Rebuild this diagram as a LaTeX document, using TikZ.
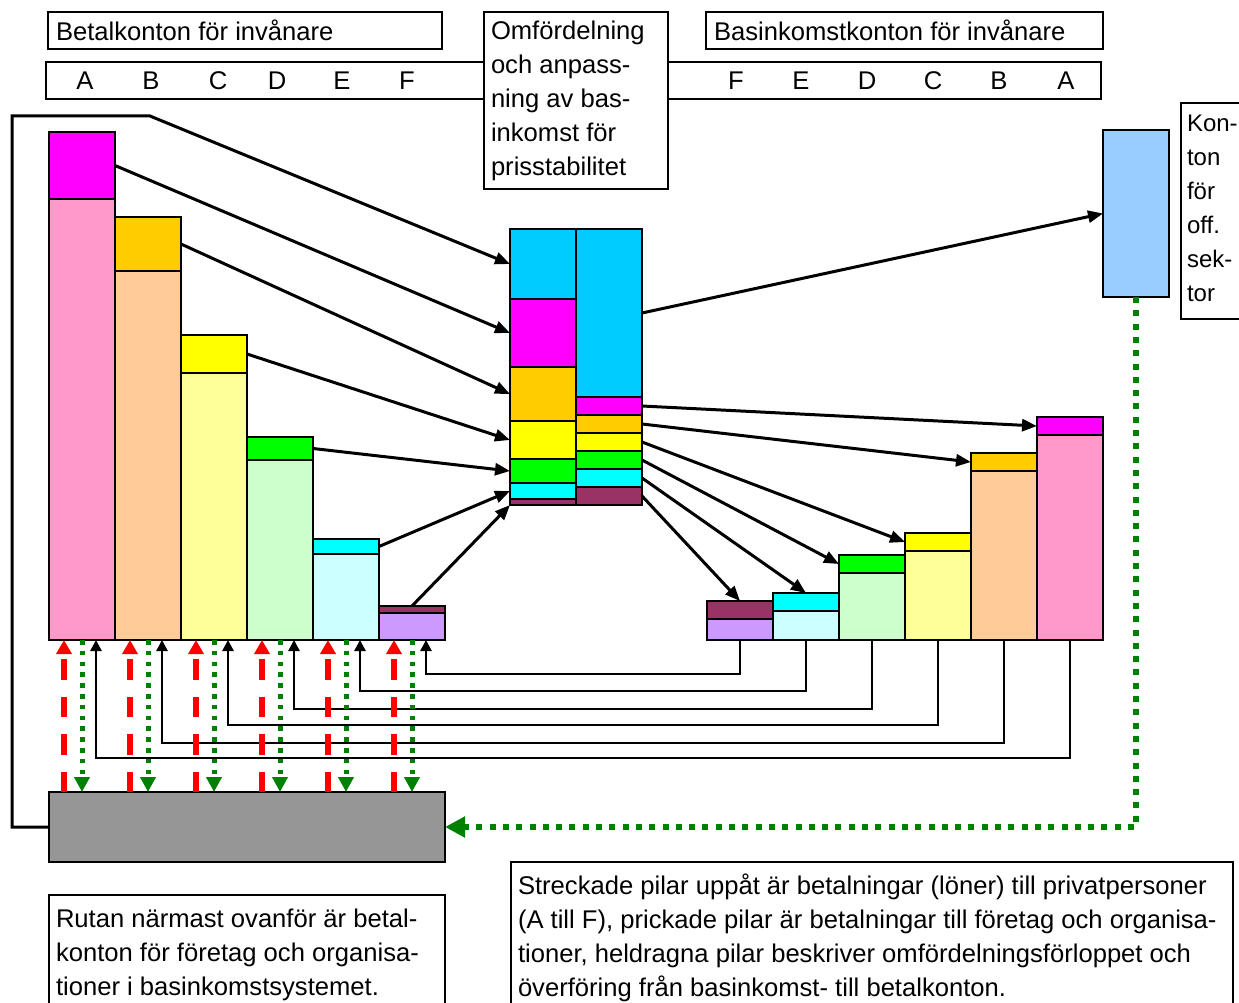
\documentclass[tikz,border=0pt]{standalone}
\usepackage{fontspec}
\setmainfont{Liberation Sans}
\usetikzlibrary{arrows.meta}

\definecolor{skyB}{HTML}{00CCFF}
\definecolor{magA}{HTML}{FF00FF}
\definecolor{goldB}{HTML}{FFCC00}
\definecolor{yelC}{HTML}{FFFF00}
\definecolor{grnD}{HTML}{00FF00}
\definecolor{cyaE}{HTML}{00FFFF}
\definecolor{marF}{HTML}{993366}
\definecolor{pinkA}{HTML}{FF99CC}
\definecolor{peachB}{HTML}{FFCC99}
\definecolor{lyelC}{HTML}{FFFF99}
\definecolor{lgrnD}{HTML}{CCFFCC}
\definecolor{lcyaE}{HTML}{CCFFFF}
\definecolor{lavF}{HTML}{CC99FF}
\definecolor{offB}{HTML}{99CCFF}
\definecolor{orgG}{HTML}{969696}
\definecolor{dotG}{HTML}{008000}

\newcommand{\txtfont}{\fontsize{25.6}{34}\selectfont}

\begin{document}
\begin{tikzpicture}[x=1pt,y=-1pt,
  seg/.style={draw, line width=2.2pt, inner sep=0pt, outer sep=0pt, anchor=north west, minimum width=66pt},
  box/.style={draw, line width=2pt, fill=white, inner sep=0pt, outer sep=0pt, anchor=north west, align=flush left, font=\txtfont},
  lett/.style={font=\txtfont, inner sep=0pt},
  flow/.style={line width=3pt, -{Triangle[length=15pt,width=12pt]}},
  back/.style={line width=2.6pt, -{Triangle[length=11pt,width=11pt]}},
  pay/.style={red, line width=6pt, dash pattern=on 20.5pt off 17pt, -{Triangle[length=14pt,width=15pt]}},
  firm/.style={dotG, line width=5pt, dash pattern=on 4.5pt off 6.3pt, -{Triangle[length=15pt,width=15pt]}},
  firmlong/.style={dotG, line width=6pt, dash pattern=on 6pt off 7.3pt, -{Triangle[length=20pt,width=20pt]}}]

  \useasboundingbox (0,0) rectangle (1239,1003);
  \clip (0,0) rectangle (1239,1003);
  \fill[white] (0,0) rectangle (1239,1003);

  % Headings
  \node[box, minimum width=394pt, minimum height=37pt, text width=378pt, inner xsep=8pt] (betal) at (48,12) {Betalkonton för invånare};
  \node[box, minimum width=397pt, minimum height=37pt, text width=381pt, inner xsep=7pt] (basink) at (706,12) {Basinkomstkonton för invånare};

  % Letter bar
  \node[box, minimum width=1055pt, minimum height=37pt] (bokst) at (46,62) {};
  \foreach \l/\x [count=\i] in {A/85,B/151,C/218,D/277,E/342,F/407,F/736,E/801,D/867,C/933,B/999,A/1066}
    \node[lett] (bok\i) at (\x,81) {\l};

  % Middle text and side text
  \node[box, minimum width=184pt, minimum height=177pt, text width=170pt, inner xsep=7pt] (omf) at (484,12)
    {Omfördelning\\och anpass-\\ning av bas-\\inkomst för\\prisstabilitet};
  \node[box, font=\fontsize{24}{34}\selectfont, minimum width=80pt, text width=68pt, inner xsep=6pt, inner ysep=11.5pt] (kon) at (1181,103)
    {Kon-\\ton\\för\\off.\\sek-\\tor\rule[-6pt]{0pt}{6pt}};

  % Notes
  \node[box, minimum width=396pt, text width=382pt, inner xsep=7pt, inner ysep=14pt] (note1) at (49,895)
    {Rutan närmast ovanför är betal-\\konton för företag och organisa-\\tioner i basinkomstsystemet.};
  \node[box, minimum width=722pt, text width=708pt, inner xsep=7pt, inner ysep=12pt] (note2) at (511,862)
    {Streckade pilar uppåt är betalningar (löner) till privatpersoner\\(A till F), prickade pilar är betalningar till företag och organisa-\\tioner, heldragna pilar beskriver omfördelningsförloppet och\\överföring från basinkomst- till betalkonton.};

  % Payment accounts
  \foreach \n/\x/\t/\m/\ct/\cb in {A/49/132/199/magA/pinkA, B/115/217/271/goldB/peachB, C/181/335/373/yelC/lyelC,
                                   D/247/437/460/grnD/lgrnD, E/313/539/554/cyaE/lcyaE, F/379/606/613/marF/lavF} {
    \node[seg, fill=\ct, minimum height={\m-\t}] (l\n-top) at (\x,\t) {};
    \node[seg, fill=\cb, minimum height={640-\m}] (l\n-body) at (\x,\m) {};
    \coordinate (l\n-pay) at ([xshift=-18pt]l\n-body.south);
    \coordinate (l\n-ret) at ([xshift=14pt]l\n-body.south);
  }

  % Basic income accounts
  \foreach \n/\x/\t/\m/\ct/\cb in {F/707/601/619/marF/lavF, E/773/593/611/cyaE/lcyaE, D/839/555/573/grnD/lgrnD,
                                   C/905/533/551/yelC/lyelC, B/971/453/471/goldB/peachB, A/1037/417/435/magA/pinkA} {
    \node[seg, fill=\ct, minimum height={\m-\t}] (r\n-top) at (\x,\t) {};
    \node[seg, fill=\cb, minimum height={640-\m}] (r\n-body) at (\x,\m) {};
  }

  % Redistribution stack
  \foreach \i/\t/\b/\c in {1/229/299/skyB, 2/299/367/magA, 3/367/421/goldB, 4/421/459/yelC, 5/459/483/grnD, 6/483/499/cyaE, 7/499/505/marF}
    \node[seg, fill=\c, minimum height={\b-\t}] (cL\i) at (510,\t) {};
  \foreach \i/\t/\b/\c in {1/229/397/skyB, 2/397/415/magA, 3/415/433/goldB, 4/433/451/yelC, 5/451/469/grnD, 6/469/487/cyaE, 7/487/505/marF}
    \node[seg, fill=\c, minimum height={\b-\t}] (cR\i) at (576,\t) {};

  % Public sector and organisations
  \node[seg, fill=offB, minimum height=167pt] (off) at (1103,130) {};
  \node[seg, fill=orgG, minimum width=396pt, minimum height=70pt] (org) at (49,792) {};

  % Into the stack
  \coordinate (fr1) at (12,116);
  \coordinate (fr2) at (150,116);
  \draw[flow] (org.west) -| (fr1) -- (fr2) -- (cL1.west);
  \foreach \s/\d in {lA-top.east/cL2.west, lB-top.east/cL3.west, lC-top.east/cL4.west,
                     lD-top.east/cL5.west, lE-top.east/cL6.west, lF-top.north/cL7.south west}
    \draw[flow] (\s) -- (\d);

  % Out of the stack
  \draw[flow] (cR1.east) -- (off.west);
  \foreach \s/\d in {cR2.east/rA-top.west, cR3.east/rB-top.west, cR4.east/rC-top.west,
                     cR5.east/rD-top.west, cR6.east/rE-top.north, cR7.east/rF-top.north}
    \draw[flow] (\s) -- (\d);

  % Back to payment accounts
  \foreach \n/\d in {F/34,E/51,D/69,C/85,B/103,A/118}
    \draw[back] (r\n-body.south) -- ++(0,\d) -| (l\n-ret);

  % Wages and payments
  \foreach \n in {A,B,C,D,E,F} {
    \draw[pay] (l\n-pay |- org.north) -- (l\n-pay);
    \draw[firm] (l\n-body.south) -- (l\n-body.south |- org.north);
  }
  \draw[firmlong] (off.south) |- (org.east);
\end{tikzpicture}
\end{document}
